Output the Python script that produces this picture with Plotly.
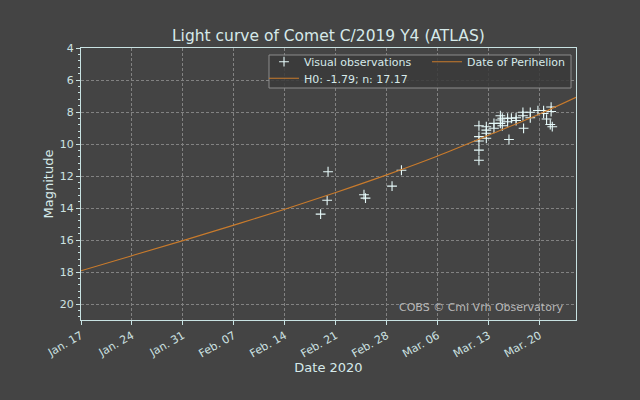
import plotly.graph_objects as go

# ---- data -------------------------------------------------------------
obs_dates = [
    "2020-02-18 22:00", "2020-02-19 19:30", "2020-02-19 22:30",
    "2020-02-24 21:00", "2020-02-25 02:00", "2020-02-28 17:30",
    "2020-03-01 00:30",
    "2020-03-11 16:00", "2020-03-11 16:00", "2020-03-11 16:00",
    "2020-03-11 16:00", "2020-03-11 16:00",
    "2020-03-12 16:20", "2020-03-12 16:20", "2020-03-12 16:20", "2020-03-12 16:20",
    "2020-03-13 17:30", "2020-03-13 17:30",
    "2020-03-14 14:40", "2020-03-14 14:40", "2020-03-14 14:40",
    "2020-03-14 21:00", "2020-03-14 21:00",
    "2020-03-15 14:30", "2020-03-15 14:30", "2020-03-15 19:00",
    "2020-03-16 03:00", "2020-03-16 18:30", "2020-03-16 18:30",
    "2020-03-17 17:00", "2020-03-17 17:00", "2020-03-17 19:10",
    "2020-03-18 17:15", "2020-03-18 17:15",
    "2020-03-19 18:30",
    "2020-03-20 13:10", "2020-03-20 13:10", "2020-03-20 23:00",
    "2020-03-21 14:00", "2020-03-21 14:00", "2020-03-21 11:15", "2020-03-21 17:45",
]
obs_mags = [
    14.38, 13.52, 11.73,
    13.17, 13.38, 12.63,
    11.64,
    8.86, 9.54, 9.81, 10.38, 11.02,
    8.92, 9.13, 9.33, 9.64,
    8.71, 9.02,
    8.23, 8.50, 8.71,
    8.39, 8.86,
    8.39, 8.61, 9.72,
    8.39, 8.36, 8.53,
    8.02, 8.23, 9.02,
    8.02, 8.36,
    7.91,
    7.91, 8.09, 8.44,
    7.69, 7.97, 8.78, 8.92,
]

curve_dates = ["2020-01-17", "2020-01-24", "2020-01-31", "2020-02-07", "2020-02-14",
               "2020-02-21", "2020-02-28", "2020-03-06", "2020-03-13", "2020-03-20",
               "2020-03-25"]
curve_mags = [17.92, 16.98, 16.04, 15.07, 14.08, 13.03, 11.93, 10.75, 9.45, 8.12, 7.08]

perihelion_date = "2020-05-31"

tick_dates = ["2020-01-17", "2020-01-24", "2020-01-31", "2020-02-07", "2020-02-14",
              "2020-02-21", "2020-02-28", "2020-03-06", "2020-03-13", "2020-03-20"]
tick_labels = ["Jan. 17", "Jan. 24", "Jan. 31", "Feb. 07", "Feb. 14",
               "Feb. 21", "Feb. 28", "Mar. 06", "Mar. 13", "Mar. 20"]

# ---- style -------------------------------------------------------------
BG = "#444444"
TXT = "#d6eaea"
SPINE = "#c8e2e2"
GRID = "#828282"
ORANGE = "#c97b2c"
FONT = "DejaVu Sans"

L, R, T, B = 81, 64, 48, 80
PW, PH = 640 - L - R, 400 - T - B


def px_x(px):
    return (px - L) / PW


def px_y(py):
    return (400 - B - py) / PH


fig = go.Figure()

fig.add_trace(go.Scatter(
    x=obs_dates, y=obs_mags, mode="markers", name="Visual observations",
    marker=dict(symbol="cross-thin", size=7, color="#e6fafa",
                line=dict(color="#e6fafa", width=1.1)),
    legend="legend", showlegend=True,
))
fig.add_trace(go.Scatter(
    x=curve_dates, y=curve_mags, mode="lines", name="H0: -1.79; n: 17.17",
    line=dict(color=ORANGE, width=1.1, shape="spline"),
    legend="legend3", showlegend=True,
))
fig.add_trace(go.Scatter(
    x=[perihelion_date, perihelion_date], y=[4, 21], mode="lines",
    name="Date of Perihelion",
    line=dict(color=ORANGE, width=1.1),
    legend="legend2", showlegend=True,
))

axis_common = dict(
    showline=True, mirror=True, linecolor=SPINE, linewidth=1,
    ticks="outside", ticklen=4, tickcolor=SPINE, tickwidth=1,
    showgrid=True, gridcolor=GRID, griddash="3px,2px", gridwidth=1,
    zeroline=False, automargin=False,
    tickfont=dict(family=FONT, size=11, color="#cde2e2"),
)

fig.update_xaxes(
    **axis_common,
    type="date",
    range=["2020-01-17", "2020-03-25"],
    tickmode="array", tickvals=tick_dates, ticktext=tick_labels,
    tickangle=-30,
    title=dict(text="Date 2020", font=dict(family=FONT, size=13, color=TXT), standoff=2),
)
fig.update_yaxes(
    **axis_common,
    range=[21, 4],
    tick0=4, dtick=2,
    minor=dict(dtick=0.4, ticks="outside", ticklen=2, tickcolor=SPINE, showgrid=False),
    title=dict(text="Magnitude", font=dict(family=FONT, size=13, color=TXT), standoff=3),
)

legend_common = dict(
    bgcolor="rgba(0,0,0,0)", borderwidth=0,
    font=dict(family=FONT, size=11, color=TXT),
    xref="paper", yref="paper", xanchor="left", yanchor="middle",
    visible=True,
)

fig.update_layout(
    width=640, height=400,
    showlegend=True,
    paper_bgcolor=BG, plot_bgcolor=BG,
    margin=dict(l=L, r=R, t=T, b=B, autoexpand=False),
    font=dict(family=FONT, color=TXT),
    title=dict(text="Light curve of Comet C/2019 Y4 (ATLAS)",
               font=dict(family=FONT, size=15.5, color=TXT),
               x=0.5131, xanchor="center", y=1 - 36 / 400, yanchor="middle"),
    legend=dict(**legend_common, x=px_x(264), y=px_y(61.7)),
    legend3=dict(**legend_common, x=px_x(264), y=px_y(78.3)),
    legend2=dict(**legend_common, x=px_x(427), y=px_y(61.7)),
    shapes=[dict(type="rect", xref="paper", yref="paper",
                 x0=px_x(269), x1=px_x(571), y0=px_y(88), y1=px_y(55),
                 fillcolor="rgba(58,58,58,0.85)",
                 line=dict(color="#8c8c8c", width=1), layer="above")],
    annotations=[dict(text="COBS © Cmi Vrh Observatory", xref="paper", yref="paper",
                      x=px_x(565), y=px_y(307),
                      xanchor="right", yanchor="middle", showarrow=False,
                      font=dict(family=FONT, size=11, color="#b8b8b8"))],
)

fig.write_html(
    "out.html",
    config={"displayModeBar": False},
    post_script="document.body.style.margin='0';document.body.style.background='#444444';",
)
